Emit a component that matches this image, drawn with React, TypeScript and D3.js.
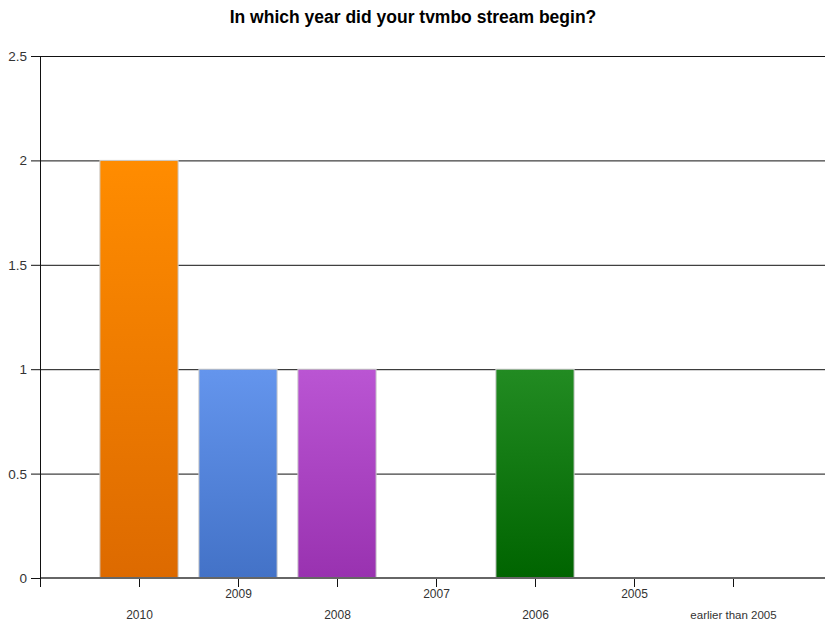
import React from "react";
import * as d3 from "d3";

const categories = ["2010", "2009", "2008", "2007", "2006", "2005", "earlier than 2005"];
const values = [2, 1, 1, 0, 1, 0, 0];
const topColors = ["#FF8C00", "#6495ED", "#BA55D3", "#888888", "#228B22", "#888888", "#888888"];
const bottomColors = ["#DD6A00", "#4372C7", "#9932B0", "#666666", "#006400", "#666666", "#666666"];
const yTicks = [0, 0.5, 1, 1.5, 2, 2.5];
const title = "In which year did your tvmbo stream begin?";

const W = 825;
const H = 627;
const left = 40;
const right = 825;
const top = 56;
const bottom = 578;

export default function App() {
  const y = d3.scaleLinear().domain([0, 2.5]).range([bottom, top]);
  const step = 99;
  const x = d3
    .scaleBand<string>()
    .domain(categories)
    .range([left + step / 2, left + step / 2 + step * categories.length])
    .paddingInner(0.21)
    .paddingOuter(0.105);
  const bw = x.bandwidth();
  const font = "Liberation Sans, Arial, sans-serif";
  return (
    <svg
      width={W}
      height={H}
      style={{ position: "absolute", left: 0, top: 0, background: "#fff" }}
      fontFamily={font}
    >
      <defs>
        {categories.map((c, i) => (
          <linearGradient key={c} id={`g${i}`} x1="0" y1="0" x2="0" y2="1">
            <stop offset="0%" stopColor={topColors[i]} />
            <stop offset="100%" stopColor={bottomColors[i]} />
          </linearGradient>
        ))}
      </defs>
      <text x={413} y={23} textAnchor="middle" fontSize={17.5} fontWeight="bold" fill="#000">
        {title}
      </text>
      {yTicks.map((t) => (
        <g key={t}>
          {t !== 0 && (
            <line x1={31} x2={right} y1={y(t) + 0.5} y2={y(t) + 0.5} stroke="#111" strokeWidth={1} />
          )}
          {t === 0 && <line x1={31} x2={left} y1={y(t) + 0.5} y2={y(t) + 0.5} stroke="#111" />}
          <text x={27} y={y(t) + 5} textAnchor="end" fontSize={13.5} fill="#333">
            {t}
          </text>
        </g>
      ))}
      {categories.map((c, i) =>
        values[i] > 0 ? (
          <rect
            key={c}
            x={x(c)!}
            y={y(values[i])}
            width={bw}
            height={bottom - y(values[i])}
            fill={`url(#g${i})`}
            stroke="#ccc"
            strokeWidth={1}
          />
        ) : null
      )}
      <line x1={left} x2={right} y1={bottom} y2={bottom} stroke="#666" strokeWidth={2} />
      <line x1={left + 0.5} x2={left + 0.5} y1={top} y2={587} stroke="#111" strokeWidth={1} />
      {categories.map((c, i) => {
        const cx = Math.round(x(c)! + bw / 2) + 0.5;
        return (
          <g key={c}>
            <line x1={cx} x2={cx} y1={bottom + 1} y2={587} stroke="#111" />
            <text
              x={cx}
              y={i % 2 === 0 ? 619 : 598}
              textAnchor="middle"
              fontSize={i === categories.length - 1 ? 11.5 : 12}
              fill="#333"
            >
              {c}
            </text>
          </g>
        );
      })}
    </svg>
  );
}
